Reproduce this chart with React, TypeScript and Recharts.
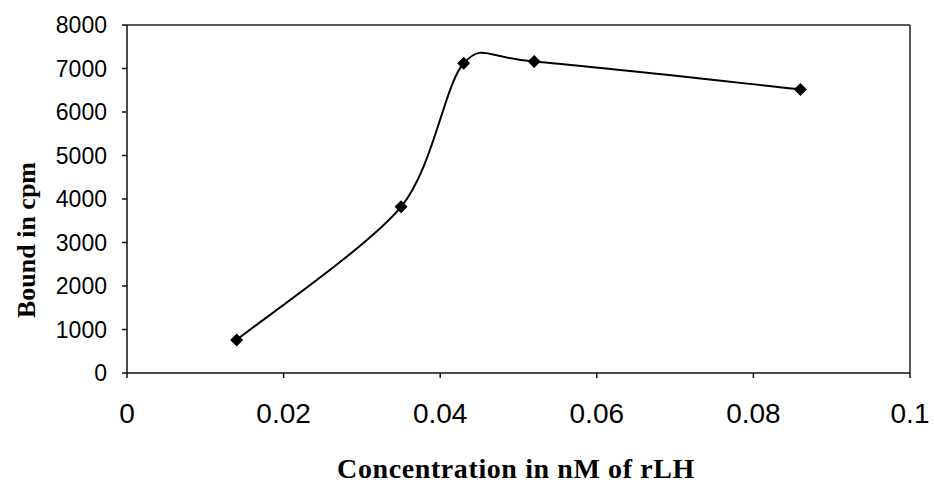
import { Label, Line, LineChart, ReferenceLine, XAxis, YAxis } from "recharts";

const concentration = [0.014, 0.035, 0.043, 0.052, 0.086];
const bound = [760, 3820, 7120, 7160, 6520];
const xTicks = [0, 0.02, 0.04, 0.06, 0.08, 0.1];
const yTicks = [0, 1000, 2000, 3000, 4000, 5000, 6000, 7000, 8000];

const data = concentration.map((c, i) => ({ conc: c, bound: bound[i] }));

// Excel-style smoothed line (Catmull-Rom through the points)
const smoothCurve = (context: any) => {
  let pts: number[][] = [];
  const k = 7;
  return {
    areaStart() {},
    areaEnd() {},
    lineStart() {
      pts = [];
    },
    lineEnd() {
      if (!pts.length) return;
      context.moveTo(pts[0][0], pts[0][1]);
      for (let i = 0; i < pts.length - 1; i++) {
        const p0 = pts[i - 1] || pts[i];
        const p1 = pts[i];
        const p2 = pts[i + 1];
        const p3 = pts[i + 2] || p2;
        context.bezierCurveTo(
          p1[0] + (p2[0] - p0[0]) / k,
          p1[1] + (p2[1] - p0[1]) / k,
          p2[0] - (p3[0] - p1[0]) / k,
          p2[1] - (p3[1] - p1[1]) / k,
          p2[0],
          p2[1]
        );
      }
    },
    point(x: number, y: number) {
      pts.push([x, y]);
    },
  };
};

const Diamond = (props: any) => {
  const { cx, cy } = props;
  if (cx == null || cy == null) return <g />;
  const r = 6.5;
  return (
    <polygon
      points={`${cx},${cy - r} ${cx + r},${cy} ${cx},${cy + r} ${cx - r},${cy}`}
      fill="#000"
    />
  );
};

const font = "'Liberation Sans', Arial, sans-serif";
const serif = "'Liberation Serif', 'Times New Roman', serif";

const XTick = ({ x, y, payload }: any) => (
  <text
    x={x}
    y={y + 45}
    textAnchor="middle"
    fontSize={28}
    fontFamily={font}
    fill="#000"
  >
    {payload.value}
  </text>
);

export default function App() {
  return (
    <div style={{ position: "absolute", left: 0, top: 0, background: "#fff" }}>
      <LineChart
        width={934}
        height={484}
        data={data}
        margin={{ top: 25, right: 24, bottom: 0, left: 0 }}
      >
        <XAxis
          dataKey="conc"
          type="number"
          domain={[0, 0.1]}
          ticks={xTicks}
          interval={0}
          height={111}
          tickSize={5}
          tickMargin={0}
          tick={<XTick />}
          stroke="#111"
          strokeWidth={1.5}
        >
          <Label
            content={() => (
              <text
                x={516}
                y={478}
                textAnchor="middle"
                fontSize={28}
                fontWeight="bold"
                letterSpacing={0.6}
                fontFamily={serif}
                fill="#000"
              >
                Concentration in nM of rLH
              </text>
            )}
          />
        </XAxis>
        <YAxis
          type="number"
          domain={[0, 8000]}
          ticks={yTicks}
          interval={0}
          width={127}
          tickSize={5}
          tickMargin={15}
          tick={{ fontSize: 23, fill: "#000", fontFamily: font }}
          stroke="#111"
          strokeWidth={1.5}
        >
          <Label
            content={() => (
              <text
                x={35}
                y={240}
                transform="rotate(-90, 35, 240)"
                textAnchor="middle"
                fontSize={26}
                fontWeight="bold"
                fontFamily={serif}
                fill="#000"
              >
                Bound in cpm
              </text>
            )}
          />
        </YAxis>
        <ReferenceLine y={8000} stroke="#222" strokeWidth={1.5} />
        <ReferenceLine x={0.1} stroke="#222" strokeWidth={1.5} />
        <Line
          dataKey="bound"
          type={smoothCurve as any}
          stroke="#000"
          strokeWidth={2}
          dot={<Diamond />}
          activeDot={false}
          isAnimationActive={false}
        />
      </LineChart>
    </div>
  );
}
